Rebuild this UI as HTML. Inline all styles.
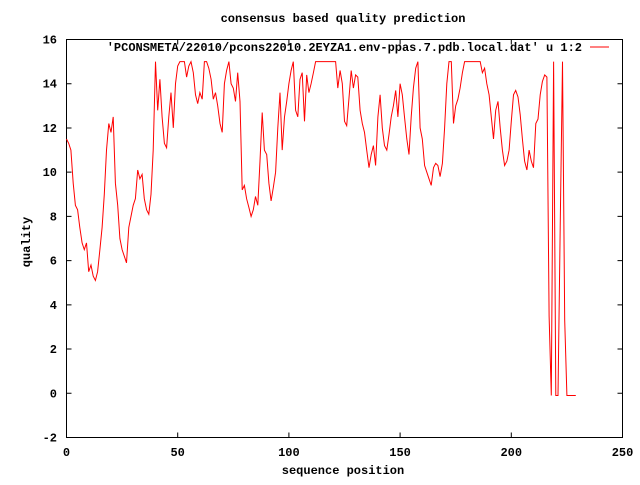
<!DOCTYPE html>
<html><head><meta charset="utf-8"><style>
body{margin:0;background:#fff}
svg text{font-family:"Liberation Mono",monospace;font-weight:bold;font-size:12px;fill:#000}
</style></head><body>
<svg id="chart" width="640" height="480" xmlns="http://www.w3.org/2000/svg">
<rect width="640" height="480" fill="#fff"/>
<text x="343" y="22" text-anchor="middle">consensus based quality prediction</text>
<text x="343" y="474" text-anchor="middle">sequence position</text>
<text x="30" y="242" text-anchor="middle" transform="rotate(-90 30 242)">quality</text>
<g id="axes"></g>
<text x="582" y="51" text-anchor="end">'PCONSMETA/22010/pcons22010.2EYZA1.env-ppas.7.pdb.local.dat' u 1:2</text>
<line x1="590" y1="47" x2="609" y2="47" stroke="#f00" stroke-width="1"/>
<rect x="66.5" y="39.5" width="556" height="398" fill="none" stroke="#000" stroke-width="1"/>
<polyline id="series" fill="none" stroke="#f00" stroke-width="1"/>
</svg>
<script>
const xTicks=[0,50,100,150,200,250];
const yTicks=[-2,0,2,4,6,8,10,12,14,16];
const quality=[11.5,11.3,11,9.5,8.5,8.3,7.5,6.8,6.5,6.8,5.5,5.8,5.3,5.1,5.5,6.5,7.5,9,11,12.2,11.8,12.5,9.5,8.5,7,6.5,6.2,5.9,7.5,8,8.5,8.8,10.1,9.7,9.9,8.8,8.3,8.1,9,11,15,12.8,14.2,12.5,11.3,11.1,12.5,13.6,12,14,14.8,15,15,15,14.3,14.8,15,14.5,13.5,13.1,13.6,13.3,15,15,14.7,14.2,13.3,13.6,13,12.2,11.8,14,14.6,15,14,13.8,13.2,14.5,13.2,9.2,9.4,8.8,8.4,8,8.3,8.9,8.5,10.5,12.7,11,10.8,9.5,8.7,9.3,10,12,13.6,11,12.5,13.2,14,14.6,15,12.8,12.5,14.2,14.5,12.3,14.4,13.6,14,14.5,15,15,15,15,15,15,15,15,15,15,13.8,14.6,14,12.3,12.1,13.3,14.6,13.8,14.4,14.3,12.8,12.2,11.8,11,10.2,10.8,11.2,10.3,12.5,13.5,12,11.2,11,11.7,12.5,13,13.7,12.5,14,13.5,12.5,11.5,10.8,12.5,13.8,14.7,15,12,11.5,10.3,10,9.7,9.4,10.2,10.4,10.3,9.8,10.4,12,14,15,15,12.2,13,13.3,13.8,14.5,15,15,15,15,15,15,15,15,14.5,14.7,14,13.5,12.5,11.5,12.8,13.2,12,11,10.3,10.5,11,12.3,13.5,13.7,13.4,12.6,11.5,10.5,10.1,11,10.5,10.2,12.2,12.4,13.5,14.1,14.4,14.3,3.5,-0.1,15,-0.1,-0.1,7.5,15,3.3,-0.1,-0.1,-0.1,-0.1,-0.1];
const L=66.5,R=622.5,T=39.5,B=437.5;
const xs=v=>L+(v-0)/(250-0)*(R-L);
const ys=v=>B-(v+2)/18*(B-T);
const svg=document.getElementById('chart'),ax=document.getElementById('axes');
const NS='http://www.w3.org/2000/svg';
function mk(tag,attrs){const e=document.createElementNS(NS,tag);for(const k in attrs)e.setAttribute(k,attrs[k]);return e;}
xTicks.forEach(t=>{
  const x=xs(t);
  const a=mk('path',{d:`M${x} ${B}v-5M${x} ${T}v5`,stroke:'#000'});
  
  
  ax.appendChild(a);
  const tx=mk('text',{x:x,y:456,'text-anchor':'middle'});tx.textContent=t;
  
  
  ax.appendChild(tx);
});
yTicks.forEach(t=>{
  const y=ys(t);
  const a=mk('path',{d:`M${L} ${y}h5M${R} ${y}h-5`,stroke:'#000'});
  
  
  ax.appendChild(a);
  const tx=mk('text',{x:57,y:y+4,'text-anchor':'end'});tx.textContent=t;
  
  
  ax.appendChild(tx);
});
document.getElementById('series').setAttribute('points',quality.map((v,i)=>xs(i).toFixed(1)+','+ys(v).toFixed(1)).join(' '));
</script>
</body></html>
